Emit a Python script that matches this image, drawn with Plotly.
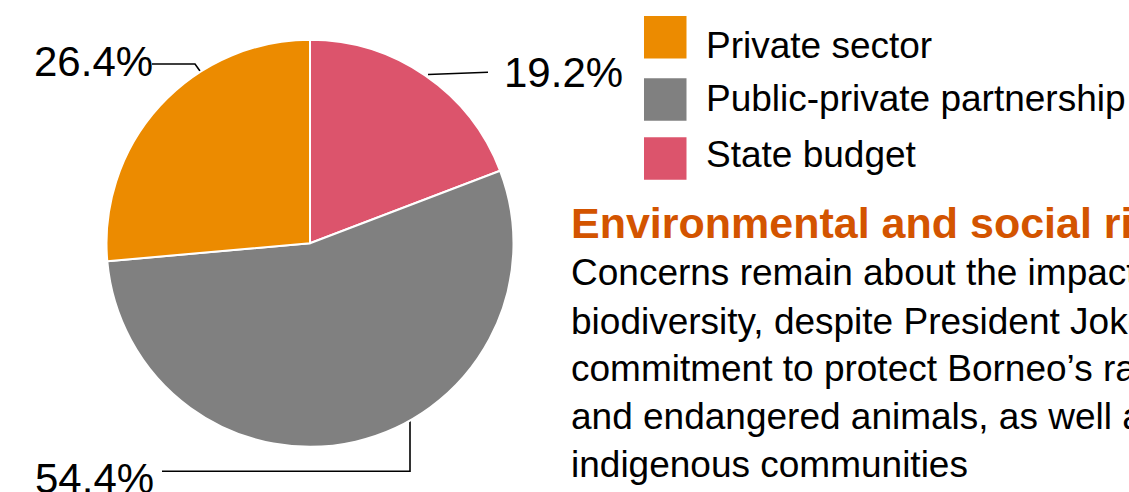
import plotly.graph_objects as go

# ---- data ----
categories = ["Private sector", "Public-private partnership", "State budget"]
shares = [26.4, 54.4, 19.2]
colors = ["#EC8B00", "#808080", "#DC546C"]

title_text = "Environmental and social risks"
body_lines = [
    "Concerns remain about the impact on",
    "biodiversity, despite President Jokowi’s",
    "commitment to protect Borneo’s rainforests",
    "and endangered animals, as well as",
    "indigenous communities",
]

W, H = 1129, 492
FONT = "Liberation Sans, Arial, Helvetica, sans-serif"


def X(px):
    return px / W


def Y(py):
    return 1 - py / H


# pie geometry (pixels)
cx, cy, r = 310, 243.3, 203.5

# slices run clockwise from 12 o'clock in reverse legend order
fig = go.Figure()
fig.add_trace(go.Pie(
    labels=categories[::-1],
    values=shares[::-1],
    marker=dict(colors=colors[::-1], line=dict(color="white", width=2)),
    sort=False,
    direction="clockwise",
    rotation=0,
    textinfo="none",
    hoverinfo="label+percent",
    showlegend=False,
    domain=dict(x=[X(cx - r), X(cx + r)], y=[Y(cy + r), Y(cy - r)]),
))

annotations = []
shapes = []


def text_at(x, baseline, text, size, xanchor="left", color="#000000", bold=False):
    top = baseline - 0.905 * size
    annotations.append(dict(
        x=X(x), y=Y(top), xref="paper", yref="paper",
        xanchor=xanchor, yanchor="top", showarrow=False,
        text=f"<b>{text}</b>" if bold else text,
        font=dict(family=FONT, size=size, color=color),
        borderpad=0, borderwidth=0, align="left",
    ))


# percent labels with leader lines
lbl = {c: f"{v:.1f}%" for c, v in zip(categories, shares)}
LS = 42
text_at(153, 76, lbl["Private sector"], LS, xanchor="right")
text_at(504, 86.7, lbl["State budget"], LS, xanchor="left")
text_at(154, 492.7, lbl["Public-private partnership"], LS, xanchor="right")

leaders = [
    [(152, 64), (195, 64), (200, 71)],
    [(428, 74.5), (488, 72.3)],
    [(162, 471.3), (410, 471.3), (410, 421)],
]
for pts in leaders:
    path = "M " + " L ".join(f"{X(a)},{Y(b)}" for a, b in pts)
    shapes.append(dict(type="path", xref="paper", yref="paper", path=path,
                       line=dict(color="#000000", width=1.6), layer="below"))

# custom legend
sq_tops = [16, 78.3, 137.3]
sq_size = 42.5
txt_base = [58, 111.5, 167.5]
for cat, col, t, b in zip(categories, colors, sq_tops, txt_base):
    shapes.append(dict(type="rect", xref="paper", yref="paper",
                       x0=X(644), x1=X(644 + sq_size), y0=Y(t), y1=Y(t + sq_size),
                       fillcolor=col, line=dict(width=0)))
    text_at(706, b, cat, 37)

# title + body text
text_at(571, 237.5, title_text, 43, color="#D35400", bold=True)
body_base = [285.7, 334, 381.7, 429.3, 477]
for line, b in zip(body_lines, body_base):
    text_at(571, b, line, 37)

fig.update_layout(
    width=W, height=H,
    margin=dict(l=0, r=0, t=0, b=0),
    paper_bgcolor="white", plot_bgcolor="white",
    annotations=annotations, shapes=shapes,
    font=dict(family=FONT),
)

fig.write_html(
    "out.html",
    config={"displayModeBar": False},
    post_script="document.body.style.margin='0';document.body.style.overflow='hidden';",
)
